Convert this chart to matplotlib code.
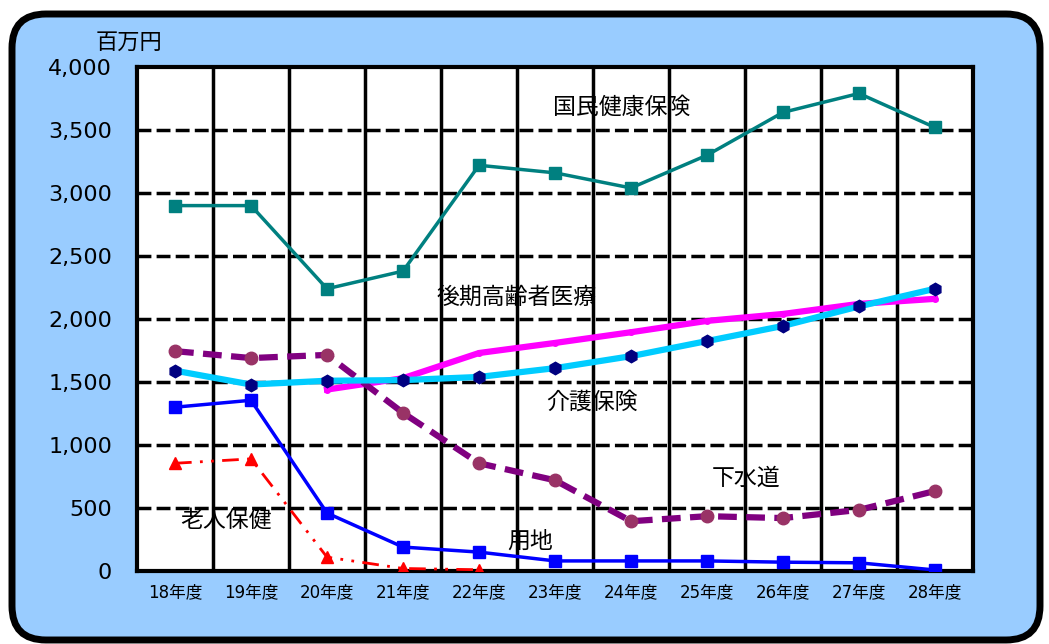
import matplotlib.pyplot as plt
from matplotlib.patches import FancyBboxPatch
from matplotlib.transforms import IdentityTransform
import numpy as np

plt.rcParams['font.family'] = ['Noto Sans CJK JP', 'DejaVu Sans']

years = ["18年度", "19年度", "20年度", "21年度", "22年度", "23年度",
         "24年度", "25年度", "26年度", "27年度", "28年度"]

kokuho = [2900, 2900, 2240, 2380, 3220, 3160, 3040, 3300, 3640, 3790, 3520]
kaigo = [1590, 1480, 1510, 1515, 1540, 1610, 1705, 1825, 1945, 2100, 2240]
kouki = [None, None, 1440, 1530, 1730, 1810, 1895, 1985, 2040, 2120, 2160]
gesuido = [1745, 1690, 1715, 1255, 855, 720, 395, 435, 420, 485, 635]
youchi = [1300, 1355, 460, 190, 150, 80, 80, 80, 70, 65, 8]
rouken = [855, 890, 110, 20, 10, None, None, None, None, None, None]

x = np.arange(len(years))

def arr(v):
    return np.array([np.nan if a is None else a for a in v], dtype=float)

fig = plt.figure(figsize=(10.49, 6.44), dpi=100)
fig.patch.set_facecolor('white')

# rounded light-blue frame (pixel coords)
frame = FancyBboxPatch((12, 4), 1028, 626, boxstyle="round,pad=0,rounding_size=34",
                       transform=IdentityTransform(), facecolor='#99CCFF',
                       edgecolor='black', linewidth=5, zorder=-10)
fig.patches.append(frame)

ax = fig.add_axes([137 / 1049, 1 - 571 / 644, 836 / 1049, 504 / 644])
ax.set_facecolor('white')
ax.set_xlim(-0.5, 10.5)
ax.set_ylim(0, 4000)

for k in range(1, 11):
    ax.axvline(k - 0.5, color='black', lw=2.5, zorder=1)
for yv in range(500, 4000, 500):
    ax.axhline(yv, color='black', lw=2.5, ls=(0, (4, 1.5)), zorder=1)

ax.plot(x, arr(kokuho), color='#008080', lw=2.5, marker='s', ms=8, zorder=3)
ax.plot(x, arr(kouki), color='#FF00FF', lw=4.5, marker='o', ms=4, zorder=3)
ax.plot(x, arr(kaigo), color='#00CCFF', lw=4.5, marker='h', ms=9,
        mfc='#000080', mec='#000080', zorder=4)
ax.plot(x, arr(gesuido), color='#800080', lw=4.5, ls=(0, (3, 1.5)), marker='o', ms=9,
        mfc='#993366', mec='#993366', zorder=3)
ax.plot(x, arr(youchi), color='#0000FF', lw=2.5, marker='s', ms=8, zorder=3)
ax.plot(x, arr(rouken), color='#FF0000', lw=2, ls=(0, (6, 3, 1, 3, 1, 3)),
        marker='^', ms=9, zorder=3)

lab = dict(fontsize=16.5, ha='center', va='center', zorder=5)
ax.text(5.88, 3680, "国民健康保険", **lab)
ax.text(4.5, 2170, "後期高齢者医療", **lab)
ax.text(5.49, 1340, "介護保険", **lab)
ax.text(7.51, 740, "下水道", **lab)
ax.text(0.67, 400, "老人保健", **lab)
ax.text(4.67, 240, "用地", **lab)

ax.set_xticks(x)
ax.set_xticklabels(years, fontsize=12, family=['DejaVu Sans', 'Noto Sans CJK JP'])
ax.set_yticks(range(0, 4001, 500))
ax.set_yticklabels([f"{v:,}" for v in range(0, 4001, 500)], fontsize=16,
                   family=['DejaVu Sans'])
ax.tick_params(axis='x', length=0, pad=9)
ax.tick_params(axis='y', length=0, pad=18)
for s in ax.spines.values():
    s.set_linewidth(3)
    s.set_color('black')

fig.text(129 / 1049, 1 - 42 / 644, "百万円", fontsize=16, ha='center', va='center')

fig.savefig("out.png", dpi=100)
